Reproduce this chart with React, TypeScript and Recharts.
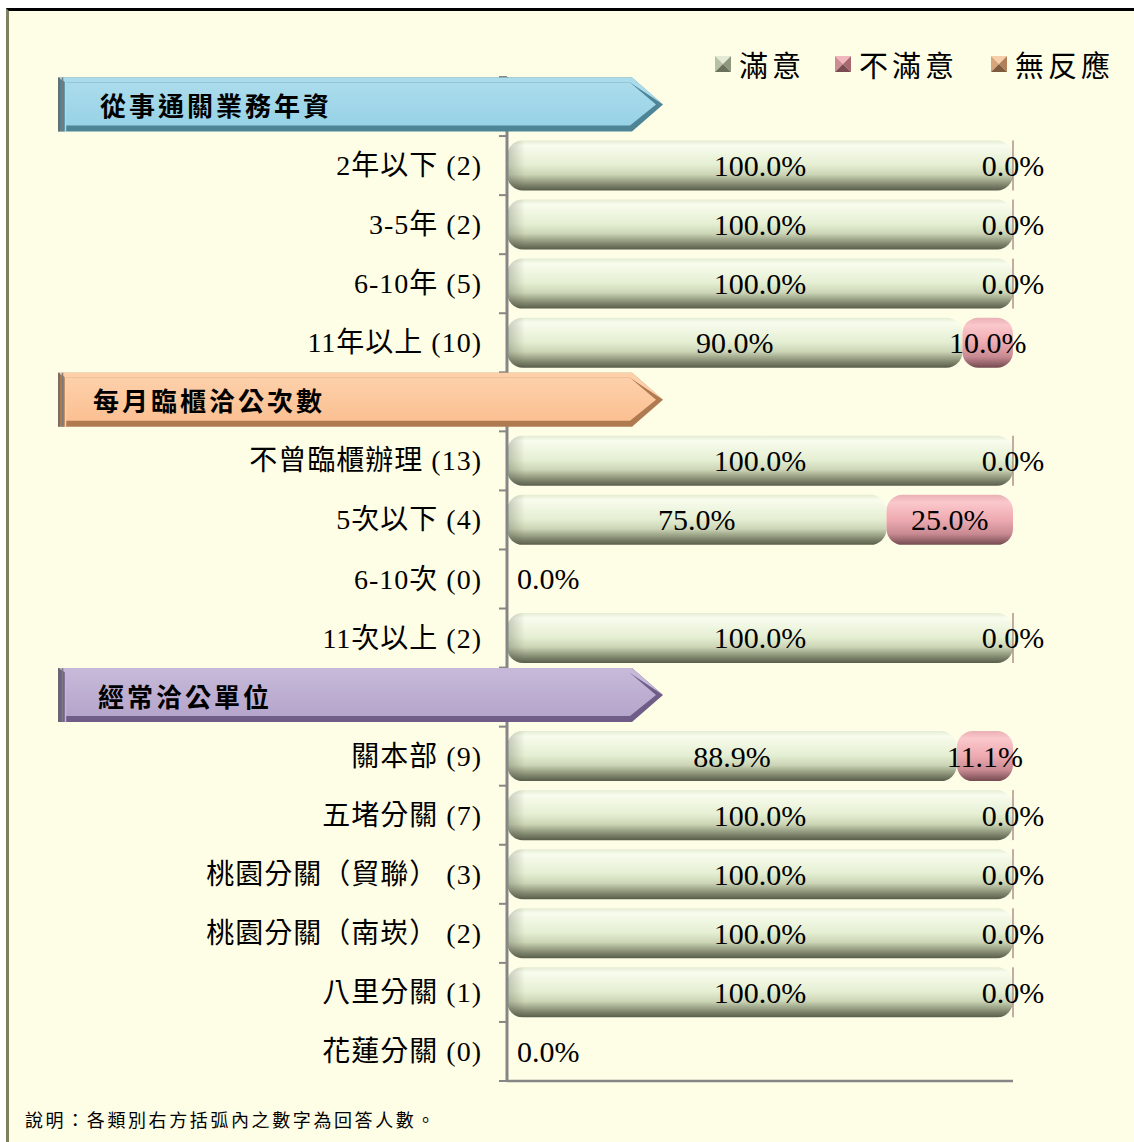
import { BarChart, Bar, XAxis, YAxis, Legend, LabelList } from 'recharts'

const categories = [
  '從事通關業務年資',
  '2年以下',
  '3-5年',
  '6-10年',
  '11年以上',
  '每月臨櫃洽公次數',
  '不曾臨櫃辦理',
  '5次以下',
  '6-10次',
  '11次以上',
  '經常洽公單位',
  '關本部',
  '五堵分關',
  '桃園分關（貿聯）',
  '桃園分關（南崁）',
  '八里分關',
  '花蓮分關',
]
const counts = [null, 2, 2, 5, 10, null, 13, 4, 0, 2, null, 9, 7, 3, 2, 1, 0]
const satisfied = [null, 100, 100, 100, 90, null, 100, 75, 0, 100, null, 88.9, 100, 100, 100, 100, 0]
const dissatisfied = [null, 0, 0, 0, 10, null, 0, 25, 0, 0, null, 11.1, 0, 0, 0, 0, 0]
const noResponse = [null, 0, 0, 0, 0, null, 0, 0, 0, 0, null, 0, 0, 0, 0, 0, 0]

const headerColors: Record<number, { base: string; light: string; dark: string }> = {
  0: { base: '#97d2e6', light: '#abdcec', dark: '#4d8597' },
  5: { base: '#fbc092', light: '#fdd0aa', dark: '#b07a50' },
  10: { base: '#b5a5cb', light: '#c5b8d8', dark: '#6f5d88' },
}

const legendItems = [
  { name: '滿意', top: '#e4ead6', left: '#b8c0a6', right: '#8f977c', bottom: '#6a705c' },
  { name: '不滿意', top: '#f0b8be', left: '#d08c94', right: '#a8686f', bottom: '#7a4c52' },
  { name: '無反應', top: '#f6cfaa', left: '#d8a47a', right: '#b0805a', bottom: '#7e5a3e' },
]

const data = categories.map((name, i) => ({
  name,
  count: counts[i],
  header: counts[i] === null,
  satisfied: satisfied[i],
  dissatisfied: dissatisfied[i],
  noResponse: noResponse[i],
}))

const W = 1134
const H = 1142
const PLOT_LEFT = 507
const PLOT_RIGHT = 1013
const PLOT_TOP = 77
const PLOT_BOTTOM = 1081
const BAND = (PLOT_BOTTOM - PLOT_TOP) / categories.length
const SERIF = '"Liberation Serif", "Times New Roman", "Noto Sans CJK TC", serif'
const CJK = '"Noto Sans CJK TC", "Noto Sans CJK JP", sans-serif'

function CategoryTick(props: any) {
  const { y, payload } = props
  const i = payload.index
  const row = data[i]
  const edges = (
    <g>
      <line x1={499} x2={PLOT_LEFT} y1={y - BAND / 2} y2={y - BAND / 2} stroke="#868686" strokeWidth={2} />
      {i === categories.length - 1 && (
        <line x1={499} x2={PLOT_LEFT} y1={y + BAND / 2} y2={y + BAND / 2} stroke="#868686" strokeWidth={2} />
      )}
    </g>
  )
  if (row.header) {
    const c = headerColors[i]
    const t = y - 29
    const b = y + 25
    const m = (t + b) / 2
    const outer = `58,${t} 632,${t} 663,${m} 632,${b} 58,${b}`
    const inner = `66,${t + 5} 630,${t + 5} 656,${m} 630,${b - 6} 66,${b - 6}`
    return (
      <g>
        {edges}
        <polygon points={outer} fill={c.dark} />
        <polygon points={`58,${t} 632,${t} 663,${m} 630,${t + 5} 66,${t + 5}`} fill={c.light} />
        <polygon points={inner} fill={`url(#hdr${i})`} />
        <line x1={59} x2={59} y1={t} y2={b} stroke="#6a6a6a" strokeWidth={1.5} />
        <line x1={62.5} x2={62.5} y1={t} y2={b} stroke="#7a7a7a" strokeWidth={1.5} />
        <line x1={65.5} x2={65.5} y1={t} y2={b} stroke={c.light} strokeWidth={1.5} />
        <text
          x={i === 0 ? 100 : i === 5 ? 93 : 98}
          y={m}
          dominantBaseline="central"
          fontFamily={CJK}
          fontWeight={700}
          fontSize={26}
          letterSpacing={3}
          fill="#000"
        >
          {row.name}
        </text>
      </g>
    )
  }
  return (
    <g>
      {edges}
      <text
        x={482}
        y={y}
        textAnchor="end"
        dominantBaseline="central"
        fontFamily={SERIF}
        fontSize={28}
        letterSpacing={1}
        fill="#000"
      >
        {`${row.name} (${row.count})`}
      </text>
    </g>
  )
}

function GreenBar(props: any) {
  const { x, y, width, height, payload } = props
  if (!payload || payload.header || !width || width <= 0) return null
  return (
    <g>
      <rect x={x} y={y} width={width} height={height} rx={16} fill="url(#gGreen)" />
      <rect x={x} y={y} width={Math.min(30, width)} height={height} rx={16} fill="url(#gLeftShade)" />
    </g>
  )
}

function PinkBar(props: any) {
  const { x, y, width, height, payload } = props
  if (!payload || payload.header || payload.count === 0) return null
  if (!width || width <= 0) {
    return <line x1={x} x2={x} y1={y} y2={y + height} stroke="#8a5a5e" strokeWidth={1} />
  }
  return <rect x={x} y={y} width={width} height={height} rx={16} fill="url(#gPink)" />
}

function SatisfiedLabel(props: any) {
  const { x, y, width, height, value, index } = props
  const row = data[index]
  if (!row || row.header || value === null || value === undefined) return null
  const zero = row.count === 0
  return (
    <text
      x={zero ? PLOT_LEFT + 10 : x + width / 2}
      y={y + height / 2}
      textAnchor={zero ? 'start' : 'middle'}
      dominantBaseline="central"
      fontFamily={SERIF}
      fontSize={30}
      fill="#000"
    >
      {`${Number(value).toFixed(1)}%`}
    </text>
  )
}

function DissatisfiedLabel(props: any) {
  const { x, y, width, height, value, index } = props
  const row = data[index]
  if (!row || row.header || row.count === 0 || value === null || value === undefined) return null
  return (
    <text
      x={x + width / 2}
      y={y + height / 2}
      textAnchor="middle"
      dominantBaseline="central"
      fontFamily={SERIF}
      fontSize={30}
      fill="#000"
    >
      {`${Number(value).toFixed(1)}%`}
    </text>
  )
}

function LegendContent() {
  const offsets = [0, 120, 276]
  return (
    <div style={{ position: 'relative', height: 40 }}>
      {legendItems.map((it, k) => (
        <div key={it.name} style={{ position: 'absolute', left: offsets[k], top: 0, display: 'flex', alignItems: 'center' }}>
          <svg width={16} height={16} style={{ marginRight: 8 }}>
            <polygon points="0,0 16,0 8,8" fill={it.top} />
            <polygon points="0,0 8,8 0,16" fill={it.left} />
            <polygon points="16,0 16,16 8,8" fill={it.right} />
            <polygon points="0,16 8,8 16,16" fill={it.bottom} />
          </svg>
          <span style={{ fontFamily: CJK, fontSize: 29, letterSpacing: 4, color: '#000', lineHeight: '40px' }}>{it.name}</span>
        </div>
      ))}
    </div>
  )
}

export default function App() {
  return (
    <div style={{ position: 'absolute', left: 0, top: 0, width: W, height: H, background: '#fff', overflow: 'hidden' }}>
      <div
        style={{
          position: 'absolute',
          left: 6,
          top: 8,
          width: W - 6,
          height: H - 8,
          background: '#fefee6',
          borderTop: '3px solid #000',
          borderLeft: '3px solid #7f7f62',
          boxSizing: 'border-box',
        }}
      />
      <div style={{ position: 'absolute', left: 0, top: 0 }}>
        <BarChart
          width={W}
          height={H}
          data={data}
          layout="vertical"
          barCategoryGap="7.5%"
          margin={{ top: PLOT_TOP, right: W - PLOT_RIGHT, bottom: H - PLOT_BOTTOM - 1, left: 0 }}
        >
          <defs>
            <linearGradient id="gGreen" x1="0" y1="0" x2="0" y2="1">
              <stop offset="0%" stopColor="#e4ecd4" />
              <stop offset="10%" stopColor="#f8fced" />
              <stop offset="48%" stopColor="#e5efd3" />
              <stop offset="68%" stopColor="#ccd5b6" />
              <stop offset="87%" stopColor="#858c72" />
              <stop offset="100%" stopColor="#585d4a" />
            </linearGradient>
            <linearGradient id="gLeftShade" x1="0" y1="0" x2="1" y2="0">
              <stop offset="0%" stopColor="#4f5444" stopOpacity={0.3} />
              <stop offset="60%" stopColor="#4f5444" stopOpacity={0} />
            </linearGradient>
            <linearGradient id="gPink" x1="0" y1="0" x2="0" y2="1">
              <stop offset="0%" stopColor="#eab0b5" />
              <stop offset="15%" stopColor="#fac8cc" />
              <stop offset="50%" stopColor="#eeaab0" />
              <stop offset="78%" stopColor="#c88a92" />
              <stop offset="100%" stopColor="#744a50" />
            </linearGradient>
            {Object.keys(headerColors).map(k => {
              const c = headerColors[Number(k)]
              return (
                <linearGradient key={k} id={`hdr${k}`} x1="0" y1="0" x2="0" y2="1">
                  <stop offset="0%" stopColor={c.light} />
                  <stop offset="100%" stopColor={c.base} />
                </linearGradient>
              )
            })}
          </defs>
          <XAxis
            type="number"
            domain={[0, 100]}
            height={1}
            tick={false}
            tickLine={false}
            axisLine={{ stroke: '#868686', strokeWidth: 2.5 }}
          />
          <YAxis
            type="category"
            dataKey="name"
            width={PLOT_LEFT}
            interval={0}
            tickLine={false}
            axisLine={{ stroke: '#868686', strokeWidth: 3 }}
            tick={<CategoryTick />}
          />
          <Legend
            layout="horizontal"
            verticalAlign="middle"
            align="center"
            content={<LegendContent />}
            wrapperStyle={{ position: 'absolute', left: 715, top: 44, width: 420, height: 40 }}
          />
          <Bar dataKey="satisfied" stackId="a" shape={<GreenBar />} isAnimationActive={false}>
            <LabelList dataKey="satisfied" content={<SatisfiedLabel />} />
          </Bar>
          <Bar dataKey="dissatisfied" stackId="a" shape={<PinkBar />} isAnimationActive={false}>
            <LabelList dataKey="dissatisfied" content={<DissatisfiedLabel />} />
          </Bar>
          <Bar dataKey="noResponse" stackId="a" fill="#f8c49a" isAnimationActive={false} />
        </BarChart>
      </div>
      <div
        style={{
          position: 'absolute',
          left: 25,
          top: 1107,
          fontFamily: CJK,
          fontSize: 18,
          letterSpacing: 2.6,
          color: '#000',
          lineHeight: '24px',
        }}
      >
        說明：各類別右方括弧內之數字為回答人數。
      </div>
    </div>
  )
}
